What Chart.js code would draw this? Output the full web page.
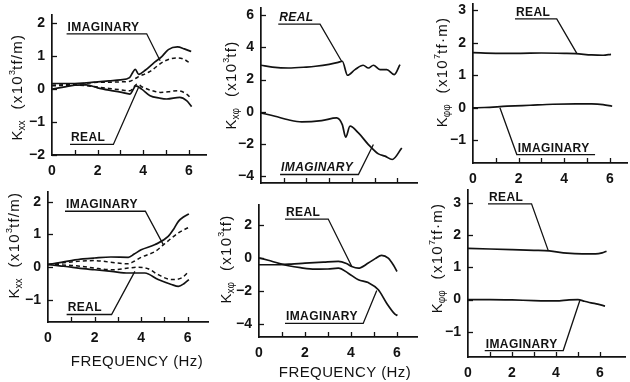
<!DOCTYPE html>
<html><head><meta charset="utf-8">
<script src="https://cdn.jsdelivr.net/npm/chart.js@4.4.0/dist/chart.umd.min.js"></script>
<style>
html,body{margin:0;padding:0;background:#fff;}
#wrap{position:relative;width:630px;height:382px;overflow:hidden;background:#fff;}
canvas{position:absolute;}
</style></head><body><div id="wrap"></div>
<script>
// ---------- tick values ----------
const xTickValues = [0, 1, 2, 3, 4, 5, 6];
const xTickLabels = ['0', '', '2', '', '4', '', '6'];
const p1YTicks = [-2, -1, 0, 1, 2];
const p2YTicks = [-4, -2, 0, 2, 4, 6];
const p3YTicks = [-1, 0, 1, 2, 3];
const p4YTicks = [-1, 0, 1, 2];
const p5YTicks = [-4, -2, 0, 2];
const p6YTicks = [-1, 0, 1, 2, 3];

// ---------- Panel 1 : Kxx (upper) ----------
const p1ImagSolidF = [0, 0.5, 1.0, 1.5, 2.0, 2.5, 3.0, 3.4, 3.55, 3.65, 3.8, 4.1, 4.5, 4.8, 5.1, 5.5, 5.8, 6.1];
const p1ImagSolidV = [0.17, 0.17, 0.17, 0.19, 0.22, 0.25, 0.28, 0.35, 0.52, 0.6, 0.45, 0.58, 0.82, 0.98, 1.2, 1.28, 1.22, 1.14];
const p1ImagDashF = [0, 1.0, 1.8, 2.5, 3.0, 3.42, 3.6, 3.75, 4.3, 4.9, 5.5, 5.8, 6.1];
const p1ImagDashV = [0.12, 0.15, 0.2, 0.21, 0.22, 0.24, 0.3, 0.36, 0.54, 0.84, 0.95, 0.9, 0.76];
const p1RealDashF = [0, 1.0, 1.8, 2.5, 3.0, 3.42, 3.6, 3.72, 4.0, 4.4, 4.75, 5.1, 5.5, 5.9, 6.12];
const p1RealDashV = [0.1, 0.12, 0.08, 0.02, -0.02, -0.05, 0.08, 0.15, 0.05, -0.05, -0.1, -0.08, -0.05, -0.15, -0.3];
const p1RealSolidF = [0, 0.5, 1.0, 1.5, 2.0, 2.5, 3.0, 3.42, 3.55, 3.67, 3.93, 4.3, 4.7, 5.03, 5.6, 5.9, 6.12];
const p1RealSolidV = [0.0, 0.06, 0.12, 0.13, 0.04, -0.03, -0.09, -0.15, -0.02, 0.1, 0.0, -0.2, -0.27, -0.3, -0.25, -0.35, -0.53];

// ---------- Panel 2 : Kx-phi (upper) ----------
const p2RealF = [0, 0.5, 1.2, 2.0, 2.4, 3.0, 3.4, 3.58, 3.81, 4.14, 4.5, 4.73, 4.95, 5.24, 5.54, 5.87, 6.12];
const p2RealV = [2.89, 2.78, 2.72, 2.78, 2.83, 2.95, 3.07, 3.14, 2.27, 2.62, 2.89, 2.72, 2.89, 2.62, 2.62, 2.31, 2.93];
const p2ImagF = [0, 0.62, 1.2, 1.79, 2.67, 3.33, 3.58, 3.73, 3.92, 4.29, 4.73, 5.17, 5.46, 5.78, 6.2];
const p2ImagV = [-0.07, -0.28, -0.5, -0.63, -0.55, -0.38, -0.8, -1.58, -0.9, -1.32, -2.04, -2.62, -2.76, -2.97, -2.25];

// ---------- Panel 3 : Kphi-phi (upper) ----------
const p3RealF = [0, 1, 2, 3, 4, 4.5, 5.2, 5.7, 6.05];
const p3RealV = [1.7, 1.68, 1.68, 1.69, 1.68, 1.67, 1.63, 1.62, 1.65];
const p3ImagF = [0, 0.5, 1.5, 2.5, 3.5, 4.5, 5.2, 5.7, 6.1];
const p3ImagV = [0.0, 0.01, 0.05, 0.08, 0.11, 0.12, 0.12, 0.1, 0.05];

// ---------- Panel 4 : Kxx (lower) ----------
const p4ImagSolidF = [0, 0.5, 1.0, 1.5, 2.0, 2.7, 3.45, 3.7, 4.0, 4.6, 5.16, 5.4, 5.6, 5.85, 6.05];
const p4ImagSolidV = [0.08, 0.14, 0.2, 0.25, 0.28, 0.31, 0.3, 0.4, 0.53, 0.69, 0.94, 1.17, 1.4, 1.55, 1.63];
const p4ImagDashF = [0, 0.5, 1.0, 1.5, 2.0, 2.7, 3.45, 3.7, 4.0, 4.6, 5.0, 5.6, 6.05];
const p4ImagDashV = [0.08, 0.12, 0.16, 0.19, 0.2, 0.15, 0.1, 0.18, 0.3, 0.48, 0.71, 1.05, 1.22];
const p4RealDashF = [0, 0.5, 1.0, 1.5, 2.0, 2.73, 3.45, 3.88, 4.3, 4.73, 5.3, 5.74, 6.05];
const p4RealDashV = [0.08, 0.07, 0.05, 0.02, -0.03, -0.08, -0.03, 0.0, -0.05, -0.23, -0.38, -0.33, -0.13];
const p4RealSolidF = [0, 0.5, 1.0, 1.3, 2.0, 2.73, 3.45, 4.16, 4.73, 5.3, 5.6, 5.85, 6.05];
const p4RealSolidV = [0.08, 0.04, 0.0, -0.03, -0.08, -0.13, -0.18, -0.18, -0.38, -0.53, -0.59, -0.5, -0.38];

// ---------- Panel 5 : Kx-phi (lower) ----------
const p5RealF = [0, 0.7, 1.4, 2.0, 2.8, 3.45, 3.8, 4.03, 4.32, 4.75, 5.05, 5.33, 5.62, 5.85, 6.0];
const p5RealV = [-0.42, -0.42, -0.38, -0.32, -0.26, -0.22, -0.35, -0.53, -0.63, -0.32, -0.05, 0.15, -0.02, -0.45, -0.83];
const p5ImagF = [0, 0.4, 0.9, 1.28, 1.8, 2.43, 3.0, 3.45, 3.88, 4.32, 4.75, 5.19, 5.55, 5.91, 6.02];
const p5ImagV = [0.0, -0.15, -0.35, -0.48, -0.6, -0.69, -0.68, -0.63, -0.93, -1.33, -1.5, -1.94, -2.75, -3.41, -3.5];

// ---------- Panel 6 : Kphi-phi (lower) ----------
const p6RealF = [0, 1, 2, 3, 3.7, 4.5, 5.2, 5.8, 6.1, 6.3];
const p6RealV = [1.59, 1.57, 1.55, 1.53, 1.51, 1.44, 1.42, 1.42, 1.45, 1.5];
const p6ImagF = [0, 1, 2, 3, 4, 4.6, 5.0, 5.3, 5.6, 5.9, 6.23];
const p6ImagV = [0.0, 0.0, -0.01, -0.03, -0.04, -0.01, 0.0, -0.05, -0.1, -0.14, -0.2];

// ---------- drawing ----------
const INK = '#121212';
const FONT = '"Liberation Sans", Arial, sans-serif';
const pts = (F, V) => F.map((f, i) => ({x: f, y: V[i]}));
const solid = (F, V) => ({data: pts(F, V), borderColor: INK, borderWidth: 1.7, cubicInterpolationMode: 'monotone', pointRadius: 0, fill: false});
const dashed = (F, V) => ({data: pts(F, V), borderColor: INK, borderWidth: 1.5, borderDash: [4, 3], cubicInterpolationMode: 'monotone', pointRadius: 0, fill: false});
const fmt = v => (v < 0 ? '\u2212' + Math.abs(v) : String(v));

const panels = [
  {left: 52, right: 206, top: 15, bottom: 155, xmax: 6.75, ymin: -2, ymax: 2.25, yTicks: p1YTicks, xLabels: true,
   series: [solid(p1ImagSolidF, p1ImagSolidV), dashed(p1ImagDashF, p1ImagDashV), dashed(p1RealDashF, p1RealDashV), solid(p1RealSolidF, p1RealSolidV)],
   notes: [{text: 'IMAGINARY', x0: 0.64, x1: 4.15, y: 1.68, tx: 4.74, ty: 0.86}, {text: 'REAL', x0: 0.79, x1: 2.69, y: -1.68, tx: 3.79, ty: 0.05}],
   title: {x: 18, y: 87, sub: 'xx', unit: 'tf/m)', exp: '3'}},
  {left: 261, right: 417, top: 8, bottom: 183, xmax: 6.87, ymin: -4.43, ymax: 6.45, yTicks: p2YTicks, xLabels: false,
   series: [solid(p2RealF, p2RealV), solid(p2ImagF, p2ImagV)],
   notes: [{text: 'REAL', x0: 0.76, x1: 2.6, y: 5.45, tx: 3.55, ty: 3.14, italic: true}, {text: 'IMAGINARY', x0: 0.84, x1: 4.29, y: -3.9, tx: 4.95, ty: -2.04, italic: true}],
   title: {x: 232, y: 85, sub: 'x\u03c6', unit: 'tf)', exp: '3'}},
  {left: 473, right: 627, top: 4, bottom: 163, xmax: 6.75, ymin: -1.7, ymax: 3.2, yTicks: p3YTicks, xLabels: true,
   series: [solid(p3RealF, p3RealV), solid(p3ImagF, p3ImagV)],
   notes: [{text: 'REAL', x0: 1.84, x1: 3.67, y: 2.74, tx: 4.55, ty: 1.68}, {text: 'IMAGINARY', x0: 1.92, x1: 5.35, y: -1.44, tx: 1.18, ty: 0.0, fromLeft: true}],
   title: {x: 443, y: 72, sub: '\u03c6\u03c6', unit: 'tf\u00b7m)', exp: '7'}},
  {left: 48, right: 208, top: 192, bottom: 322, xmax: 6.87, ymin: -1.68, ymax: 2.3, yTicks: p4YTicks, xLabels: true, xTitle: {x: 137, y: 362},
   series: [solid(p4ImagSolidF, p4ImagSolidV), dashed(p4ImagDashF, p4ImagDashV), dashed(p4RealDashF, p4RealDashV), solid(p4RealSolidF, p4RealSolidV)],
   notes: [{text: 'IMAGINARY', x0: 0.73, x1: 4.18, y: 1.71, tx: 4.95, ty: 0.69}, {text: 'REAL', x0: 0.8, x1: 2.73, y: -1.45, tx: 3.73, ty: -0.13}],
   title: {x: 15, y: 245, sub: 'xx', unit: 'tf/m)', exp: '3'}},
  {left: 259, right: 417, top: 205, bottom: 337, xmax: 6.87, ymin: -4.8, ymax: 3.2, yTicks: p5YTicks, xLabels: true, xTitle: {x: 345, y: 373},
   series: [solid(p5RealF, p5RealV), solid(p5ImagF, p5ImagV)],
   notes: [{text: 'REAL', x0: 1.13, x1: 3.01, y: 2.35, tx: 4.03, ty: -0.51}, {text: 'IMAGINARY', x0: 1.13, x1: 4.53, y: -3.98, tx: 5.12, ty: -1.98}],
   title: {x: 227, y: 259, sub: 'x\u03c6', unit: 'tf)', exp: '3'}},
  {left: 468, right: 625, top: 190, bottom: 357, xmax: 7.14, ymin: -1.78, ymax: 3.4, yTicks: p6YTicks, xLabels: true,
   series: [solid(p6RealF, p6RealV), solid(p6ImagF, p6ImagV)],
   notes: [{text: 'REAL', x0: 0.91, x1: 2.89, y: 2.97, tx: 3.65, ty: 1.52}, {text: 'IMAGINARY', x0: 0.76, x1: 4.33, y: -1.58, tx: 5.09, ty: -0.02}],
   title: {x: 438, y: 258, sub: '\u03c6\u03c6', unit: 'tf\u00b7m)', exp: '7'}}
];

function drawRich(ctx, segs, cx, cy) {
  ctx.save();
  ctx.translate(cx, cy);
  ctx.rotate(-Math.PI / 2);
  ctx.textBaseline = 'middle';
  ctx.textAlign = 'left';
  let total = 0;
  segs.forEach(s => { ctx.font = s.font; ctx.letterSpacing = s.ls || '0px'; s.w = ctx.measureText(s.t).width; total += s.w; });
  let x = -total / 2;
  segs.forEach(s => { ctx.font = s.font; ctx.letterSpacing = s.ls || '0px'; ctx.fillText(s.t, x, s.dy || 0); x += s.w; });
  ctx.restore();
}

const wrap = document.getElementById('wrap');
panels.forEach((p, idx) => {
  const cx = Math.max(0, p.left - 50);
  const cy = p.top - 20;
  const bottomRow = idx >= 3;
  const hx = bottomRow ? (387 - p.bottom) : 36;
  const cw = Math.ceil(p.right - cx + 6);
  const ch = Math.ceil(p.bottom - cy + hx);
  const cv = document.createElement('canvas');
  cv.width = cw; cv.height = ch;
  cv.style.left = cx + 'px'; cv.style.top = cy + 'px';
  wrap.appendChild(cv);

  const leaders = p.notes.map(n => ({
    data: n.fromLeft ? [{x: n.x1, y: n.y}, {x: n.x0, y: n.y}, {x: n.tx, y: n.ty}] : [{x: n.x0, y: n.y}, {x: n.x1, y: n.y}, {x: n.tx, y: n.ty}],
    borderColor: INK, borderWidth: 1.3, tension: 0, pointRadius: 0, fill: false
  }));

  const deco = {
    id: 'deco' + idx,
    afterDatasetsDraw(chart) {
      const {ctx, scales: {x, y}, chartArea: ca} = chart;
      ctx.save();
      ctx.strokeStyle = INK; ctx.fillStyle = INK; ctx.lineWidth = 1.3;
      xTickValues.forEach(v => { if (v === 0) return; const px = Math.round(x.getPixelForValue(v)) + 0.5; ctx.beginPath(); ctx.moveTo(px, ca.bottom); ctx.lineTo(px, ca.bottom - 5); ctx.stroke(); });
      p.yTicks.forEach(v => { const py = Math.round(y.getPixelForValue(v)) + 0.5; ctx.beginPath(); ctx.moveTo(ca.left, py); ctx.lineTo(ca.left + 5, py); ctx.stroke(); });
      p.notes.forEach(n => {
        ctx.font = (n.italic ? 'italic ' : '') + 'bold 12px ' + FONT;
        ctx.letterSpacing = '0.4px';
        ctx.textAlign = 'left'; ctx.textBaseline = 'alphabetic';
        ctx.fillText(n.text, x.getPixelForValue(n.x0) + 1, y.getPixelForValue(n.y) - 3);
      });
      ctx.letterSpacing = '0px';
      const t = p.title;
      const big = '15px ' + FONT, small = '10px ' + FONT, tiny = '9px ' + FONT;
      drawRich(ctx, [
        {t: 'K', font: big},
        {t: t.sub, font: small, dy: 4},
        {t: '  (x10', font: big, ls: '1.3px'},
        {t: t.exp, font: tiny, dy: -5},
        {t: t.unit, font: big, ls: '1.3px'}
      ], t.x - cx, t.y - cy);
      if (p.xTitle) {
        ctx.font = '15px ' + FONT;
        ctx.letterSpacing = '0.4px';
        ctx.textAlign = 'center'; ctx.textBaseline = 'middle';
        ctx.fillText('FREQUENCY (Hz)', p.xTitle.x - cx, p.xTitle.y - cy);
      }
      ctx.restore();
    }
  };

  new Chart(cv, {
    type: 'line',
    data: {datasets: p.series.concat(leaders)},
    options: {
      responsive: false, animation: false, devicePixelRatio: 1,
      layout: {padding: {left: 0, top: 20, right: 6, bottom: 0}},
      plugins: {legend: {display: false}, tooltip: {enabled: false}},
      scales: {
        x: {
          type: 'linear', min: 0, max: p.xmax,
          afterBuildTicks: s => { s.ticks = xTickValues.map(v => ({value: v})); },
          afterFit: s => { s.height = hx; },
          grid: {display: false, drawTicks: false},
          border: {display: true, color: INK, width: 1.7},
          ticks: {display: true, padding: 8, color: INK, font: {family: FONT, size: 14, weight: 'bold'}, maxRotation: 0,
                  callback: (v, i) => (p.xLabels ? xTickLabels[i] : '')}
        },
        y: {
          type: 'linear', min: p.ymin, max: p.ymax,
          afterBuildTicks: s => { s.ticks = p.yTicks.map(v => ({value: v})); },
          afterFit: s => { s.width = p.left - cx; },
          grid: {display: false, drawTicks: false},
          border: {display: true, color: INK, width: 1.7},
          ticks: {padding: 7, color: INK, font: {family: FONT, size: 14, weight: 'bold'}, callback: v => fmt(v)}
        }
      }
    },
    plugins: [deco]
  });
});
</script>
</body></html>
